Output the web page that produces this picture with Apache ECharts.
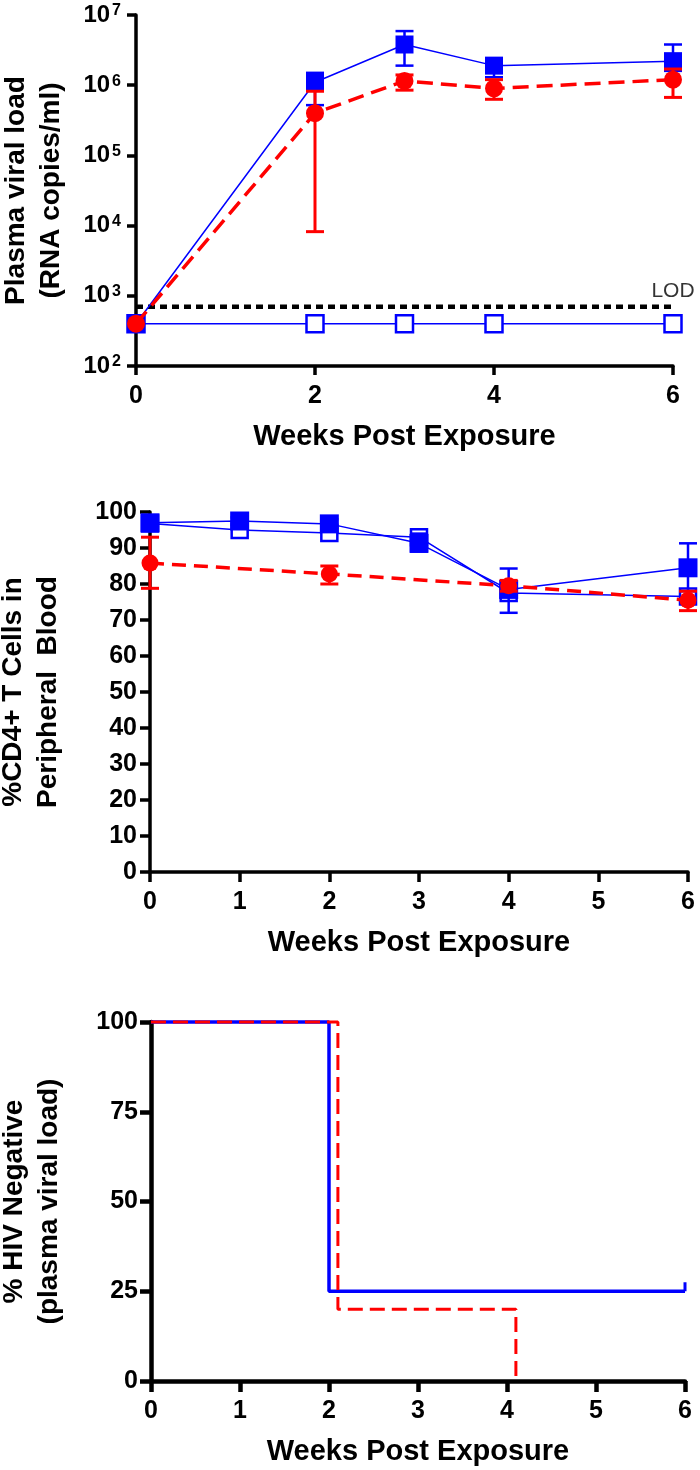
<!DOCTYPE html>
<html>
<head>
<meta charset="utf-8">
<script src="https://cdn.jsdelivr.net/npm/echarts@6/dist/echarts.min.js"></script>
<style>html,body{margin:0;padding:0;background:#fff}#c{width:700px;height:1470px}</style>
</head>
<body>
<div id="c"></div>
<script>
// ---------- Panel A: plasma viral load ----------
const vlWeeks = [0, 2, 3, 4, 6];
const vlBlueFilled   = [400, 1.1e6, 3.8e6, 1.9e6, 2.2e6];
const vlBlueFilledLo = [400, 5.2e5, 1.9e6, 1.3e6, 1.6e6];
const vlBlueFilledHi = [400, 1.5e6, 5.9e6, 2.3e6, 3.8e6];
const vlRed   = [400, 4.0e5, 1.15e6, 9.0e5, 1.2e6];
const vlRedLo = [400, 8.2e3, 8.5e5, 6.3e5, 6.7e5];
const vlRedHi = [400, 8.2e5, 1.4e6, 1.2e6, 1.7e6];
const vlBlueOpen = [400, 400, 400, 400, 400];
const lodValue = 700;
const lodWeeks = [0, 6.1];

// ---------- Panel B: %CD4+ T cells ----------
const cd4Weeks = [0, 1, 2, 3, 4, 6];
const cd4BlueFilled   = [97, 97.5, 96.7, 91.3, 78.5, 84.5];
const cd4BlueFilledLo = [95.5, 96.5, 95.5, 89, 72, 78];
const cd4BlueFilledHi = [98.5, 98.5, 98, 94, 84.3, 91.3];
const cd4BlueOpen     = [96.8, 95, 94.2, 93, 77.5, 76.5];
const cd4RedWeeks = [0, 2, 4, 6];
const cd4Red   = [85.8, 82.8, 79.5, 75.5];
const cd4RedLo = [78.8, 80, 78, 72.6];
const cd4RedHi = [93, 85, 81, 78];

// ---------- Panel C: % HIV negative ----------
const survBlueTimes = [0, 2, 6];
const survBlueVals  = [100, 25, 25];
const survBlueCensorTimes = [6, 6];
const survBlueCensorVals  = [25, 27.5];
const survRedTimes = [0, 2.1, 4.1];
const survRedVals  = [100, 20, 0];

const BLUE = '#0000ff', RED = '#ff0000';
const FONT = "'Liberation Sans', Arial, Helvetica, sans-serif";

const zip = (xs, ys) => xs.map((x, i) => [x, ys[i]]);
const zip3 = (xs, a, b) => xs.map((x, i) => [x, a[i], b[i]]).filter(d => d[1] !== d[2]);

function errRender(color, lw, cap) {
  return function (params, api) {
    const x = api.value(0), lo = api.value(1), hi = api.value(2);
    const pLo = api.coord([x, lo]), pHi = api.coord([x, hi]);
    const style = { stroke: color, lineWidth: lw };
    return {
      type: 'group',
      children: [
        { type: 'line', shape: { x1: pLo[0], y1: pLo[1], x2: pHi[0], y2: pHi[1] }, style },
        { type: 'line', shape: { x1: pLo[0] - cap, y1: pLo[1], x2: pLo[0] + cap, y2: pLo[1] }, style },
        { type: 'line', shape: { x1: pHi[0] - cap, y1: pHi[1], x2: pHi[0] + cap, y2: pHi[1] }, style }
      ]
    };
  };
}
function errSeries(idx, data, color, lw, cap, z) {
  return {
    type: 'custom', xAxisIndex: idx, yAxisIndex: idx, data: data,
    encode: { x: 0, y: [1, 2] }, renderItem: errRender(color, lw, cap), clip: false, z: z, silent: true
  };
}

const tickLabel = { color: '#000', fontFamily: FONT, fontWeight: 'bold', fontSize: 25 };
const axisTitle = { color: '#000', fontFamily: FONT, fontWeight: 'bold', fontSize: 29 };
const yTitle = { color: '#000', fontFamily: FONT, fontWeight: 'bold', fontSize: 28, lineHeight: 35 };

function xAx(idx, interval, lw, tickLen) {
  return {
    type: 'value', gridIndex: idx, min: 0, max: 6, interval: interval,
    name: 'Weeks Post Exposure', nameLocation: 'middle', nameGap: 56, nameTextStyle: axisTitle,
    axisLine: { show: true, onZero: false, lineStyle: { color: '#000', width: lw } },
    axisTick: { show: true, length: tickLen, lineStyle: { color: '#000', width: lw } },
    axisLabel: Object.assign({ margin: 18 }, tickLabel),
    splitLine: { show: false }
  };
}

const option = {
  animation: false,
  backgroundColor: '#fff',
  grid: [
    { left: 136, right: 27, top: 15, bottom: 1104, containLabel: false, outerBoundsMode: 'none' },
    { left: 150, right: 12, top: 512, bottom: 598, containLabel: false, outerBoundsMode: 'none' },
    { left: 151, right: 15, top: 1022, bottom: 89, containLabel: false, outerBoundsMode: 'none' }
  ],
  xAxis: [
    xAx(0, 2, 3.5, 9),
    xAx(1, 1, 3.5, 10),
    xAx(2, 1, 4.5, 11)
  ],
  yAxis: [
    {
      type: 'log', logBase: 10, gridIndex: 0, min: 100, max: 1e7,
      name: 'Plasma viral load\n(RNA copies/ml)', nameLocation: 'middle', nameRotate: 90, nameGap: 67, nameTextStyle: yTitle,
      axisLine: { show: true, onZero: false, lineStyle: { color: '#000', width: 3.5 } },
      axisTick: { show: true, length: 9, lineStyle: { color: '#000', width: 3.5 } },
      axisLabel: {
        margin: 15,
        formatter: v => '{b|10}{s|' + Math.round(Math.log10(v)) + '}',
        rich: {
          b: { fontFamily: FONT, fontWeight: 'bold', fontSize: 24, color: '#000', lineHeight: 24 },
          s: { fontFamily: FONT, fontWeight: 'bold', fontSize: 16, color: '#000', verticalAlign: 'top', lineHeight: 16, padding: [0, 0, 0, 2] }
        }
      },
      splitLine: { show: false }, minorTick: { show: false }
    },
    {
      type: 'value', gridIndex: 1, min: 0, max: 100, interval: 10,
      name: '%CD4+ T Cells in\nPeripheral  Blood', nameLocation: 'middle', nameRotate: 90, nameGap: 84, nameTextStyle: yTitle,
      axisLine: { show: true, onZero: false, lineStyle: { color: '#000', width: 3.5 } },
      axisTick: { show: true, length: 10, lineStyle: { color: '#000', width: 3.5 } },
      axisLabel: Object.assign({ margin: 13 }, tickLabel),
      splitLine: { show: false }
    },
    {
      type: 'value', gridIndex: 2, min: 0, max: 100, interval: 25,
      name: '% HIV Negative\n(plasma viral load)', nameLocation: 'middle', nameRotate: 90, nameGap: 84, nameTextStyle: yTitle,
      axisLine: { show: true, onZero: false, lineStyle: { color: '#000', width: 4.5 } },
      axisTick: { show: true, length: 11, lineStyle: { color: '#000', width: 4.5 } },
      axisLabel: Object.assign({ margin: 13 }, tickLabel),
      splitLine: { show: false }
    }
  ],
  series: [
    // ---- Panel A ----
    {
      type: 'line', xAxisIndex: 0, yAxisIndex: 0, data: zip(lodWeeks, [lodValue, lodValue]),
      symbol: 'none', clip: false, lineStyle: { color: '#000', width: 4.5, type: [7, 5] }, z: 1, silent: true
    },
    {
      type: 'scatter', xAxisIndex: 0, yAxisIndex: 0, data: [[6, lodValue]], symbolSize: 0,
      label: { show: true, position: 'top', distance: 5, formatter: 'LOD', color: '#000', fontFamily: FONT, fontSize: 21 }, silent: true
    },
    {
      type: 'line', xAxisIndex: 0, yAxisIndex: 0, data: zip(vlWeeks, vlBlueOpen),
      symbol: 'rect', symbolSize: 17, itemStyle: { color: '#fff', borderColor: BLUE, borderWidth: 2.5 },
      lineStyle: { color: BLUE, width: 1.5 }, z: 2
    },
    errSeries(0, zip3(vlWeeks, vlBlueFilledLo, vlBlueFilledHi), BLUE, 2.5, 9, 3),
    {
      type: 'line', xAxisIndex: 0, yAxisIndex: 0, data: zip(vlWeeks, vlBlueFilled),
      symbol: 'rect', symbolSize: 18, itemStyle: { color: BLUE }, lineStyle: { color: BLUE, width: 1.5 }, z: 3
    },
    errSeries(0, zip3(vlWeeks, vlRedLo, vlRedHi), RED, 3, 9, 4),
    {
      type: 'line', xAxisIndex: 0, yAxisIndex: 0, data: zip(vlWeeks, vlRed),
      symbol: 'circle', symbolSize: 18, itemStyle: { color: RED }, lineStyle: { color: RED, width: 3.5, type: [16, 8] }, z: 4
    },
    // ---- Panel B ----
    {
      type: 'line', xAxisIndex: 1, yAxisIndex: 1, data: zip(cd4Weeks, cd4BlueOpen),
      symbol: 'rect', symbolSize: 16, itemStyle: { color: '#fff', borderColor: BLUE, borderWidth: 2.5 },
      lineStyle: { color: BLUE, width: 1.5 }, z: 2
    },
    errSeries(1, zip3(cd4Weeks, cd4BlueFilledLo, cd4BlueFilledHi), BLUE, 2.5, 9, 3),
    {
      type: 'line', xAxisIndex: 1, yAxisIndex: 1, data: zip(cd4Weeks, cd4BlueFilled),
      symbol: 'rect', symbolSize: 19, itemStyle: { color: BLUE }, lineStyle: { color: BLUE, width: 1.5 }, z: 3
    },
    errSeries(1, zip3(cd4RedWeeks, cd4RedLo, cd4RedHi), RED, 3, 9, 4),
    {
      type: 'line', xAxisIndex: 1, yAxisIndex: 1, data: zip(cd4RedWeeks, cd4Red),
      symbol: 'circle', symbolSize: 17, itemStyle: { color: RED }, lineStyle: { color: RED, width: 3.5, type: [14, 8] }, z: 4
    },
    // ---- Panel C ----
    {
      type: 'line', xAxisIndex: 2, yAxisIndex: 2, data: zip(survBlueTimes, survBlueVals), step: 'end',
      symbol: 'none', lineStyle: { color: BLUE, width: 3.5 }, clip: false, z: 2
    },
    {
      type: 'line', xAxisIndex: 2, yAxisIndex: 2, data: zip(survBlueCensorTimes, survBlueCensorVals),
      symbol: 'none', lineStyle: { color: BLUE, width: 3 }, clip: false, z: 2
    },
    {
      type: 'line', xAxisIndex: 2, yAxisIndex: 2, data: zip(survRedTimes, survRedVals), step: 'end',
      symbol: 'none', lineStyle: { color: RED, width: 3, type: [15, 7] }, clip: false, z: 3
    }
  ]
};

const chart = echarts.init(document.getElementById('c'), null, { renderer: 'canvas' });
chart.setOption(option);
</script>
</body>
</html>
